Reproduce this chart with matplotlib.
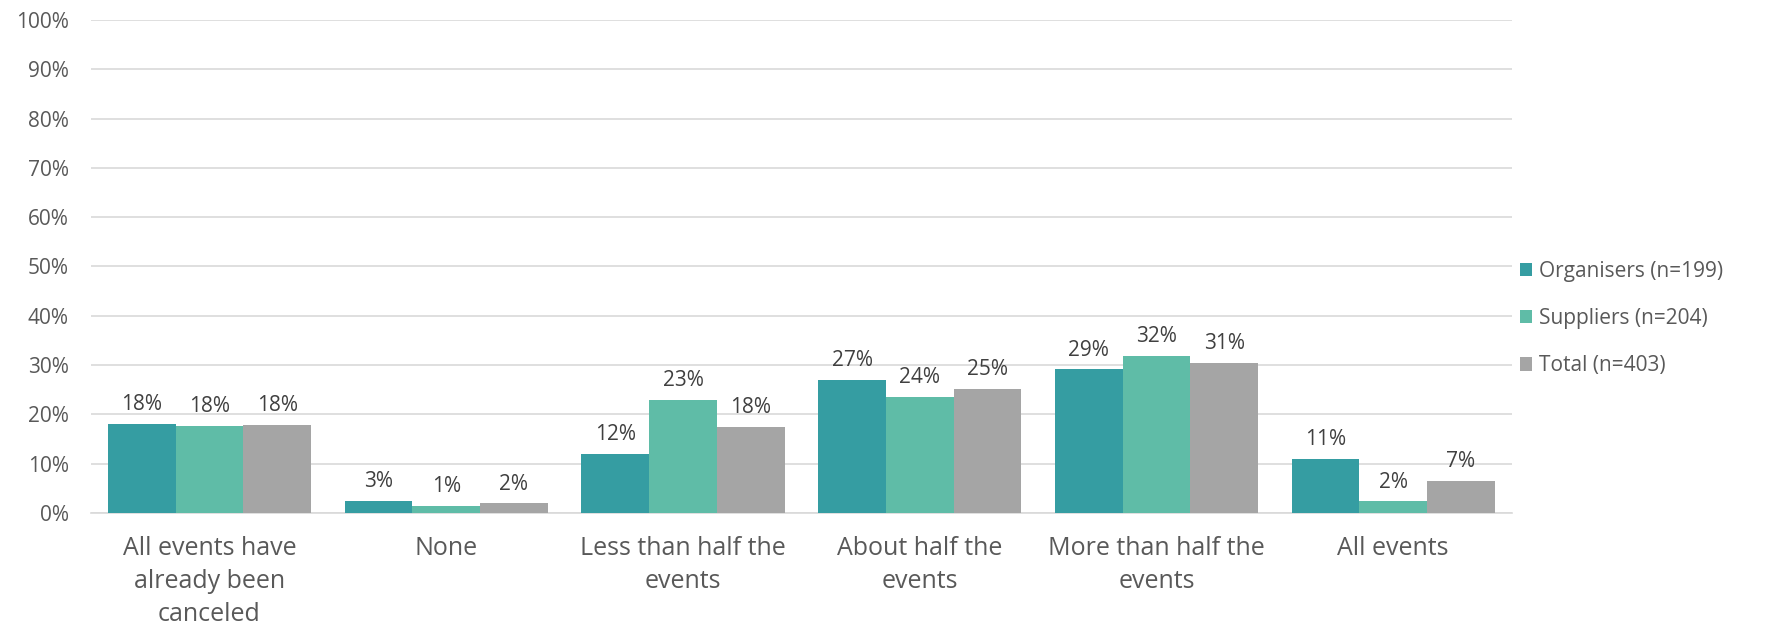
import numpy as np
import matplotlib.pyplot as plt
from matplotlib.ticker import FuncFormatter

plt.rcParams['font.family'] = ['Open Sans', 'DejaVu Sans']

categories = ["All events have\nalready been\ncanceled", "None", "Less than half the\nevents",
              "About half the\nevents", "More than half the\nevents", "All events"]
series_names = ["Organisers (n=199)", "Suppliers (n=204)", "Total (n=403)"]
organisers = [18.1, 2.5, 11.9, 26.9, 29.1, 10.9]
suppliers = [17.6, 1.4, 22.9, 23.5, 31.8, 2.3]
total = [17.8, 1.9, 17.5, 25.1, 30.5, 6.5]
colors = ["#359da2", "#5fbca7", "#a5a5a5"]

txt = "#595959"
fig = plt.figure(figsize=(17.69, 6.3), dpi=100)
ax = fig.add_axes([0.0515, 0.186, 0.803, 0.782])

x = np.arange(len(categories))
w = 0.286
for i, (vals, name) in enumerate(zip([organisers, suppliers, total], series_names)):
    pos = x + (i - 1) * w
    bars = ax.bar(pos, vals, w, color=colors[i], label=name, zorder=3)
    for b, v in zip(bars, vals):
        ax.text(b.get_x() + b.get_width() / 2, v + 1.8, f"{int(v + 0.5)}%",
                ha="center", va="bottom", fontsize=15, color="#404040")

ax.set_ylim(0, 100)
ax.set_xlim(-0.5, len(categories) - 0.5)
ax.set_yticks(range(0, 101, 10))
ax.yaxis.set_major_formatter(FuncFormatter(lambda v, p: f"{int(v)}%"))
ax.grid(axis="y", color="#d9d9d9", linewidth=1.2, zorder=0)
for s in ["top", "right", "left"]:
    ax.spines[s].set_visible(False)
ax.spines["bottom"].set_color("#d9d9d9")
ax.spines["bottom"].set_linewidth(1.2)
ax.tick_params(axis="both", length=0, colors=txt)
ax.tick_params(axis="y", labelsize=15, pad=16)
ax.set_xticks(x)
ax.set_xticklabels(categories, fontsize=18, color=txt, linespacing=1.42)
ax.tick_params(axis="x", pad=17)

leg = ax.legend(loc="center left", bbox_to_anchor=(1.0, 0.394), frameon=False,
                fontsize=15, handlelength=0.6, handleheight=0.6, handletextpad=0.3,
                labelspacing=1.25, borderaxespad=0)
for t in leg.get_texts():
    t.set_color(txt)

fig.savefig("out.png", dpi=100)
